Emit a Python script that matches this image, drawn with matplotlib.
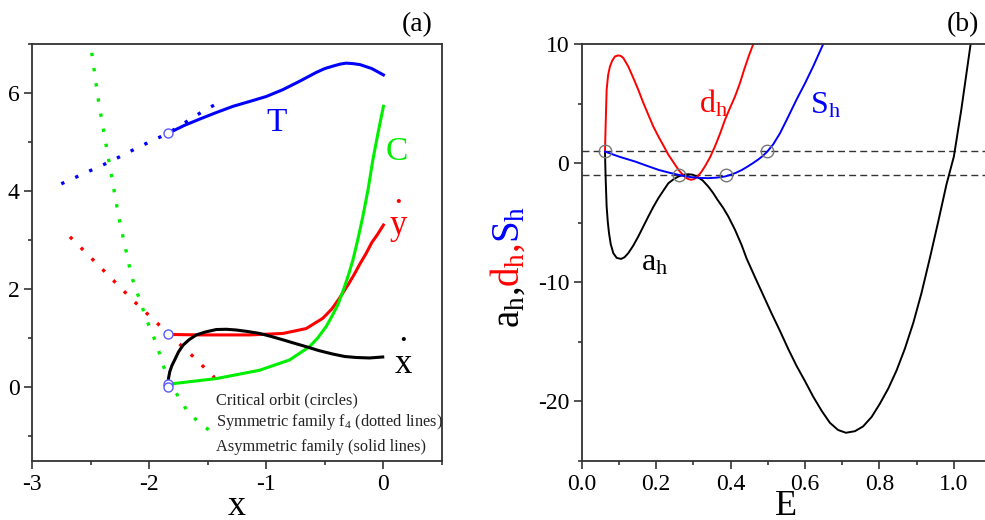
import numpy as np
import matplotlib.pyplot as plt
from matplotlib.ticker import MultipleLocator

plt.rcParams['font.family'] = ['Liberation Serif', 'DejaVu Serif']
plt.rcParams['mathtext.default'] = 'regular'
plt.rcParams['axes.unicode_minus'] = False

# ---- panel (a): symmetric family f4 (dotted) and asymmetric family (solid)
T_sym_x = [-2.75, -2.335, -2.08, -1.838, -1.54, -1.41]
T_sym_y = [4.15, 4.60, 4.91, 5.18, 5.63, 5.80]
C_sym_x = [-2.49, -2.43, -2.36, -2.26, -2.15, -2.02, -1.94, -1.838, -1.68, -1.57, -1.41]
C_sym_y = [6.82, 5.80, 4.84, 3.48, 2.26, 1.37, 0.90, 0.15, -0.46, -0.73, -1.00]
y_sym_x = [-2.676, -2.42, -2.14, -1.838, -1.625, -1.45, -1.41]
y_sym_y = [3.07, 2.46, 1.78, 1.10, 0.63, 0.22, 0.00]

T_asym_x = [-1.838, -1.7, -1.568, -1.43, -1.284, -1.14, -1.0, -0.858, -0.716, -0.574,
            -0.5, -0.43, -0.37, -0.318, -0.26, -0.2, -0.1, 0.0]
T_asym_y = [5.18, 5.34, 5.47, 5.60, 5.73, 5.83, 5.93, 6.07, 6.24, 6.42,
            6.50, 6.55, 6.59, 6.61, 6.60, 6.58, 6.50, 6.37]
y_asym_x = [-1.838, -1.569, -1.142, -0.858, -0.659, -0.517, -0.44, -0.375, -0.3, -0.25,
            -0.2, -0.148, -0.1, -0.05, 0.0]
y_asym_y = [1.08, 1.07, 1.07, 1.10, 1.20, 1.41, 1.60, 1.82, 2.10, 2.30,
            2.52, 2.73, 2.95, 3.12, 3.31]
C_asym_x = [-1.838, -1.426, -1.057, -0.801, -0.631, -0.56, -0.489, -0.44, -0.39, -0.347,
            -0.3, -0.26, -0.22, -0.176, -0.13, -0.09, -0.045, 0.0]
C_asym_y = [0.065, 0.18, 0.35, 0.56, 0.83, 1.01, 1.24, 1.45, 1.68, 1.95,
            2.28, 2.60, 3.00, 3.48, 4.05, 4.64, 5.20, 5.73]
xd_asym_x = [-1.839, -1.835, -1.824, -1.805, -1.782, -1.75, -1.711, -1.66, -1.597, -1.52,
             -1.426, -1.34, -1.256, -1.16, -1.057, -0.96, -0.858, -0.76, -0.659, -0.55,
             -0.432, -0.33, -0.233, -0.12, -0.006]
xd_asym_y = [0.05, 0.18, 0.32, 0.45, 0.56, 0.72, 0.86, 0.97, 1.07, 1.13,
             1.18, 1.185, 1.17, 1.14, 1.10, 1.04, 0.97, 0.90, 0.83, 0.75,
             0.68, 0.63, 0.61, 0.60, 0.62]

crit_x = [-1.838, -1.838, -1.838, -1.838]
crit_y = [5.18, 1.08, 0.07, 0.0]

# ---- panel (b): stability indices vs E
E_a = [0.0626, 0.0635, 0.0645, 0.067, 0.070, 0.0734, 0.078, 0.085, 0.094, 0.1056, 0.115,
       0.125, 0.138, 0.152, 0.165, 0.179, 0.192, 0.206, 0.220, 0.233, 0.247, 0.260, 0.273,
       0.286, 0.298, 0.309, 0.325, 0.340, 0.353, 0.365, 0.38, 0.394, 0.412, 0.43, 0.443,
       0.466, 0.488, 0.51, 0.533, 0.555, 0.577, 0.600, 0.622, 0.645, 0.667, 0.689, 0.710,
       0.734, 0.756, 0.779, 0.801, 0.824, 0.846, 0.868, 0.891, 0.913, 0.936, 0.958, 0.98,
       1.0, 1.02, 1.045]
a_h = [0.97, -0.3, -1.4, -3.64, -4.9, -5.88, -6.8, -7.56, -7.95, -8.04, -7.9,
       -7.56, -6.95, -6.16, -5.35, -4.48, -3.7, -2.94, -2.28, -1.68, -1.35, -1.12, -0.98,
       -0.93, -0.97, -1.12, -1.45, -1.96, -2.5, -3.08, -3.75, -4.48, -5.6, -6.9, -8.0,
       -9.6, -11.1, -12.6, -14.1, -15.6, -17.0, -18.3, -19.6, -20.8, -21.8, -22.4, -22.63,
       -22.5, -22.1, -21.3, -20.2, -18.9, -17.4, -15.6, -13.4, -10.9, -7.9, -4.9, -1.8,
       0.56, 4.5, 10.0]
E_d = [0.0626, 0.0635, 0.0645, 0.067, 0.071, 0.076, 0.082, 0.0895, 0.098, 0.105, 0.112,
       0.125, 0.138, 0.152, 0.165, 0.179, 0.192, 0.206, 0.220, 0.233, 0.247, 0.260, 0.270,
       0.278, 0.286, 0.294, 0.302, 0.309, 0.320, 0.331, 0.345, 0.358, 0.372, 0.385, 0.398,
       0.412, 0.425, 0.437, 0.449, 0.461]
d_h = [0.97, 2.2, 3.36, 6.16, 7.4, 8.12, 8.6, 8.96, 9.04, 9.0, 8.82,
       8.12, 7.2, 6.16, 5.1, 4.06, 3.1, 2.24, 1.45, 0.70, 0.05, -0.56, -0.92,
       -1.18, -1.33, -1.40, -1.34, -1.18, -0.8, -0.28, 0.5, 1.40, 2.5, 3.64, 4.6,
       5.6, 6.7, 7.9, 9.0, 10.0]
E_S = [0.0626, 0.100, 0.143, 0.175, 0.206, 0.235, 0.260, 0.278, 0.295, 0.318, 0.340, 0.362,
       0.385, 0.400, 0.415, 0.43, 0.445, 0.460, 0.475, 0.487, 0.499, 0.515, 0.533, 0.555,
       0.577, 0.600, 0.622, 0.649]
S_h = [0.97, 0.55, 0.14, -0.22, -0.56, -0.80, -0.98, -1.10, -1.18, -1.24, -1.26, -1.22,
       -1.12, -0.98, -0.80, -0.58, -0.30, 0.0, 0.32, 0.62, 0.98, 1.6, 2.52, 3.9,
       5.32, 6.7, 8.12, 10.0]
circ_E = [0.063, 0.261, 0.389, 0.499]
circ_v = [1.0, -1.0, -1.0, 1.0]

fig = plt.figure(figsize=(9.85, 5.2), dpi=100)
W, H = 985, 520
ax1 = fig.add_axes([32 / W, 59 / H, 410 / W, 417 / H])
ax2 = fig.add_axes([581.7 / W, 59 / H, 409.4 / W, 417 / H])

spine_c = '#333333'
for ax in (ax1, ax2):
    for s in ax.spines.values():
        s.set_color(spine_c)
        s.set_linewidth(1.3)
    ax.tick_params(which='major', direction='out', length=6, width=1.2, labelsize=17,
                   color=spine_c, top=False, right=False, pad=3,
                   labelfontfamily='Liberation Serif')
    ax.tick_params(which='minor', direction='out', length=3, width=1.2, color=spine_c,
                   top=False, right=False)

# panel (a)
dots = dict(linestyle=(0, (1, 3.6)), lw=2.4, dash_capstyle='butt')
ax1.plot(T_sym_x, T_sym_y, color='#0000ff', **dots)
ax1.plot(C_sym_x, C_sym_y, color='#00ee00', **dots)
ax1.plot(y_sym_x, y_sym_y, color='#ff0000', **dots)
ax1.plot(T_asym_x, T_asym_y, color='#0000ff', lw=2.2)
ax1.plot(y_asym_x, y_asym_y, color='#ff0000', lw=2.2)
ax1.plot(C_asym_x, C_asym_y, color='#00ee00', lw=2.2)
ax1.plot(xd_asym_x, xd_asym_y, color='black', lw=2.2)
ax1.plot(crit_x, crit_y, 'o', ms=6.5, mfc='white', mec='#5a5aff', mew=1.0, ls='none')

ax1.text(-0.915, 5.39, 'T', color='#0000ff', fontsize=24, ha='center', va='center')
ax1.text(0.11, 4.81, 'C', color='#00ee00', fontsize=24, ha='center', va='center')
# dotted letters: the dot sits on its own line just above the letter
ax1.text(0.128, 3.12, '·\ny', color='#ff0000', fontsize=25, ha='center', va='baseline',
         linespacing=0.55)
ax1.text(0.17, 0.30, '·\nx', color='black', fontsize=25, ha='center', va='baseline',
         linespacing=0.55)

leg_kw = dict(fontsize=11.8, va='center', color='#222222')
ax1.text(-1.432, -0.26, 'Critical orbit (circles)', **leg_kw)
ax1.text(-1.432, -0.70, 'Symmetric family f$_4$ (dotted lines)', **leg_kw)
ax1.text(-1.432, -1.22, 'Asymmetric family (solid lines)', **leg_kw)

ax1.set_xlim(-3, 0.5)
ax1.set_ylim(-1.5, 7)
ax1.xaxis.set_major_locator(MultipleLocator(1))
ax1.xaxis.set_minor_locator(MultipleLocator(0.5))
ax1.yaxis.set_major_locator(MultipleLocator(2))
ax1.yaxis.set_minor_locator(MultipleLocator(1))
ax1.set_xlabel('x', fontsize=26, labelpad=-3)
fig.text(417 / W, 1 - 25 / H, '(a)', fontsize=20, ha='center', va='center')

# panel (b)
ax2.axhline(1, color='#333333', lw=1.0, ls=(0, (5, 3)))
ax2.axhline(-1, color='#333333', lw=1.0, ls=(0, (5, 3)))
ax2.plot(E_a, a_h, color='black', lw=1.4)
ax2.plot(E_d, d_h, color='#ff0000', lw=1.4)
ax2.plot(E_S, S_h, color='#0000ff', lw=1.4)
ax2.plot(circ_E, circ_v, 'o', ms=9, mfc='none', mec='#777777', mew=1.0, ls='none')

ax2.text(0.354, 5.0, 'd$_h$', color='#ff0000', fontsize=23, ha='center', va='center')
ax2.text(0.654, 4.8, 'S$_h$', color='#0000ff', fontsize=23, ha='center', va='center')
ax2.text(0.197, -8.4, 'a$_h$', color='black', fontsize=23, ha='center', va='center')

ax2.set_xlim(0, 1.1)
ax2.set_ylim(-25, 10)
ax2.xaxis.set_major_locator(MultipleLocator(0.2))
ax2.xaxis.set_minor_locator(MultipleLocator(0.1))
ax2.yaxis.set_major_locator(MultipleLocator(10))
ax2.yaxis.set_minor_locator(MultipleLocator(5))
ax2.xaxis.set_major_formatter(plt.FormatStrFormatter('%.1f'))
ax2.set_xlabel('E', fontsize=26, labelpad=-3)
fig.text(963 / W, 1 - 25 / H, '(b)', fontsize=20, ha='center', va='center')

# multicoloured y label, built piece by piece
t1 = fig.text(528 / W, 1 - 328 / H, 'a$_h$,', color='black', fontsize=28, rotation=90,
              ha='right', va='bottom')
t2 = ax2.annotate('d$_h$,', xy=(1, 1), xycoords=t1, color='#ff0000', fontsize=28,
                  rotation=90, ha='right', va='bottom')
ax2.annotate('S$_h$', xy=(1, 1), xycoords=t2, color='#0000ff', fontsize=28,
             rotation=90, ha='right', va='bottom')

fig.savefig('out.png', dpi=100)
